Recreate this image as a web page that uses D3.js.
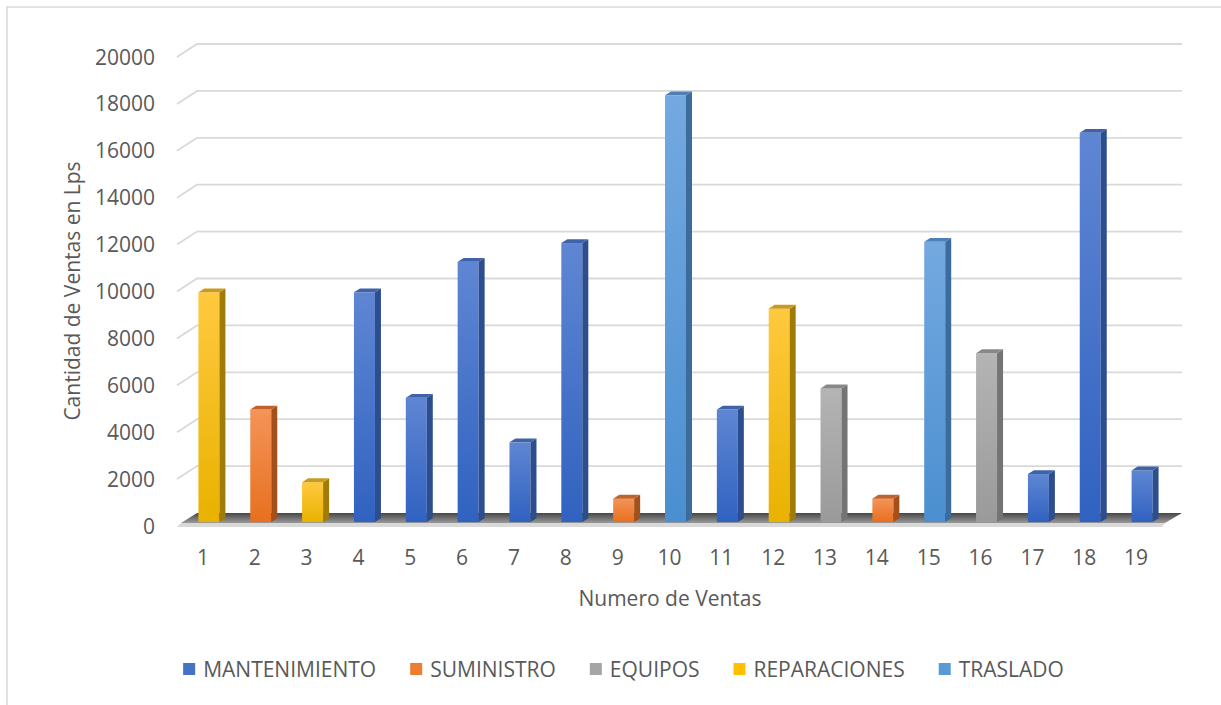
<!DOCTYPE html>
<html>
<head>
<meta charset="utf-8">
<script src="https://cdn.jsdelivr.net/npm/d3@7"></script>
<style>
  html, body { margin: 0; padding: 0; background: #fff; }
  svg { display: block; }
  text { font-family: "Open Sans", "Liberation Sans", sans-serif; fill: #595959; }
</style>
</head>
<body>
<svg id="chart" width="1221" height="705"></svg>
<script>
// Sales amounts per sale number, with the service type of each sale
const categories = ["1","2","3","4","5","6","7","8","9","10","11","12","13","14","15","16","17","18","19"];
const values = [9800, 4800, 1700, 9800, 5300, 11100, 3400, 11900, 1000, 18200, 4800, 9100, 5700, 1000, 11950, 7200, 2050, 16600, 2200];
const saleType = ["REPARACIONES","SUMINISTRO","REPARACIONES","MANTENIMIENTO","MANTENIMIENTO","MANTENIMIENTO",
  "MANTENIMIENTO","MANTENIMIENTO","SUMINISTRO","TRASLADO","MANTENIMIENTO","REPARACIONES","EQUIPOS",
  "SUMINISTRO","TRASLADO","EQUIPOS","MANTENIMIENTO","MANTENIMIENTO","MANTENIMIENTO"];
const seriesNames = ["MANTENIMIENTO","SUMINISTRO","EQUIPOS","REPARACIONES","TRASLADO"];
const yTicks = [0, 2000, 4000, 6000, 8000, 10000, 12000, 14000, 16000, 18000, 20000];

// Face colours per series: front gradient (top, bottom), side and top faces
const palette = {
  MANTENIMIENTO: { light: "#5f86d3", dark: "#3062c0", side: "#2c4d8e", top: "#3f62a8", key: "#4472C4" },
  SUMINISTRO:    { light: "#f49458", dark: "#e8701f", side: "#a4501b", top: "#c0622a", key: "#ED7D31" },
  EQUIPOS:       { light: "#b4b4b4", dark: "#9a9a9a", side: "#747474", top: "#888888", key: "#A5A5A5" },
  REPARACIONES:  { light: "#ffc93f", dark: "#e9b200", side: "#a07c06", top: "#c89a1e", key: "#FFC000" },
  TRASLADO:      { light: "#74a9e0", dark: "#4b8fd0", side: "#3c6c9c", top: "#4f7fb4", key: "#5B9BD5" }
};

const svg = d3.select("#chart");
const W = 1221, H = 705;
const fontSize = "21px";

// Chart border
svg.append("rect").attr("x", 7).attr("y", 7).attr("width", W + 20).attr("height", H + 20)
  .attr("fill", "#fff").attr("stroke", "#d9d9d9").attr("stroke-width", 1.5);

// Front-plane scales, plus the depth vector of the 3D box
const x = d3.scaleBand().domain(categories).range([177, 1162])
  .paddingInner(0.595).paddingOuter(0.2975);
const y = d3.scaleLinear().domain([0, 20000]).range([526, 57]);
const depth = { dx: 20, dy: -13 };
const f0 = 0.3, f1 = 0.6; // bar front / back position inside the depth

const defs = svg.append("defs");
seriesNames.forEach(s => {
  const g = defs.append("linearGradient").attr("id", "g-" + s)
    .attr("x1", 0).attr("y1", 0).attr("x2", 0).attr("y2", 1);
  g.append("stop").attr("offset", "0%").attr("stop-color", palette[s].light);
  g.append("stop").attr("offset", "100%").attr("stop-color", palette[s].dark);
});
const floorGrad = defs.append("linearGradient").attr("id", "floorGrad")
  .attr("x1", 0).attr("y1", 0).attr("x2", 0).attr("y2", 1);
floorGrad.append("stop").attr("offset", "0%").attr("stop-color", "#474747");
floorGrad.append("stop").attr("offset", "100%").attr("stop-color", "#9a9a9a");

const x0 = x.range()[0], x1 = x.range()[1];

// Gridlines on the back wall, with the slanted segment on the side wall
const grid = svg.append("g");
yTicks.filter(t => t > 0).forEach(t => {
  const yf = y(t), yb = y(t) + depth.dy;
  grid.append("path")
    .attr("d", `M${x0},${yf}L${x0 + depth.dx},${yb}L${x1 + depth.dx},${yb}`)
    .attr("fill", "none").attr("stroke", "#d9d9d9").attr("stroke-width", 1.8);
});

// Floor
const yz = y(0);
svg.append("path")
  .attr("d", `M${x0 + 4},${yz - 3}L${x0 + depth.dx},${yz + depth.dy}L${x1 + depth.dx},${yz + depth.dy}L${x1 + 3},${yz - 3}Z`)
  .attr("fill", "url(#floorGrad)");
svg.append("path")
  .attr("d", `M${x0},${yz + 1}L${x0 + 4},${yz - 3}L${x1 + 3},${yz - 3}L${x1},${yz + 1}Z`)
  .attr("fill", "#d9d9d9");

// Bars
const bw = x.bandwidth();
const ox = depth.dx * f0, oy = depth.dy * f0;
const sx = depth.dx * (f1 - f0), sy = depth.dy * (f1 - f0);
const bars = svg.append("g").selectAll("g").data(categories).join("g");
bars.each(function(c, i) {
  const g = d3.select(this);
  const s = saleType[i];
  const left = x(c) + ox, right = left + bw;
  const top = y(values[i]) + oy, bottom = y(0) + oy;
  g.append("rect").attr("x", left).attr("y", top).attr("width", bw).attr("height", bottom - top)
    .attr("fill", `url(#g-${s})`);
  g.append("path")
    .attr("d", `M${right},${top}L${right + sx},${top + sy}L${right + sx},${bottom + sy}L${right},${bottom}Z`)
    .attr("fill", palette[s].side);
  g.append("path")
    .attr("d", `M${left},${top}L${left + sx},${top + sy}L${right + sx},${top + sy}L${right},${top}Z`)
    .attr("fill", palette[s].top);
});

// Value axis labels
svg.append("g").selectAll("text").data(yTicks).join("text")
  .attr("x", 155).attr("y", d => y(d)).attr("dy", "0.36em")
  .attr("text-anchor", "end").style("font-size", fontSize)
  .text(d => d);

// Category axis labels
svg.append("g").selectAll("text").data(categories).join("text")
  .attr("x", d => x(d) + bw / 2).attr("y", 557).attr("dy", "0.36em")
  .attr("text-anchor", "middle").style("font-size", fontSize)
  .text(d => d);

// Axis titles
svg.append("text").attr("x", 670).attr("y", 598).attr("dy", "0.36em")
  .attr("text-anchor", "middle").style("font-size", fontSize).text("Numero de Ventas");
svg.append("text").attr("transform", "translate(72,291) rotate(-90)").attr("dy", "0.36em")
  .attr("text-anchor", "middle").style("font-size", fontSize).text("Cantidad de Ventas en Lps");

// Legend
const legend = svg.append("g");
const items = legend.selectAll("g").data(seriesNames).join("g");
items.append("rect").attr("width", 12).attr("height", 12).attr("y", -6)
  .attr("fill", d => palette[d].key);
items.append("text").attr("x", 20).attr("dy", "0.36em").style("font-size", fontSize).text(d => d);
const widths = [];
items.each(function() { widths.push(d3.select(this).select("text").node().getComputedTextLength()); });
const gap = 34;
const total = widths.reduce((a, w) => a + 20 + w, 0) + gap * (widths.length - 1);
let start = 623.5 - total / 2;
items.attr("transform", (d, i) => {
  const t = `translate(${start},669)`;
  start += 20 + widths[i] + gap;
  return t;
});
</script>
</body>
</html>
